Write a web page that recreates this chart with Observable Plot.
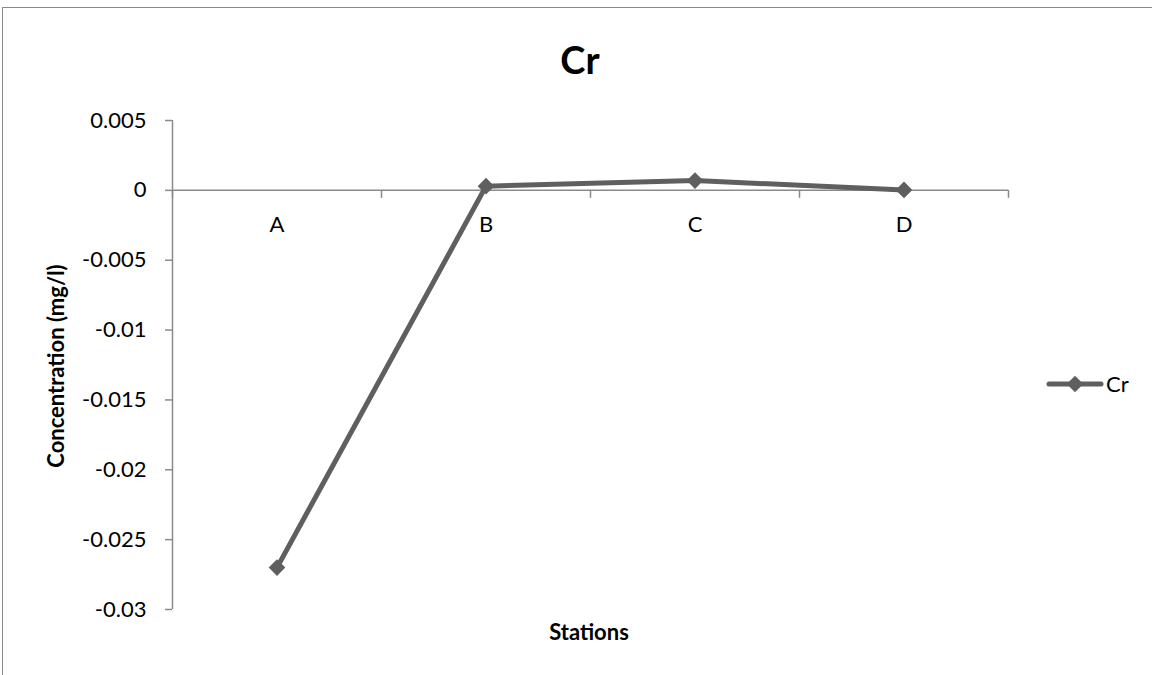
<!DOCTYPE html>
<html><head><meta charset="utf-8">
<script src="https://cdn.jsdelivr.net/npm/d3@7"></script>
<script src="https://cdn.jsdelivr.net/npm/@observablehq/plot@0.6"></script>
<style>
body{margin:0;background:#fff;font-family:Lato,"Open Sans",sans-serif;}
#wrap{position:relative;width:1152px;height:675px;overflow:hidden;background:#fff;}
#frame{position:absolute;left:2px;top:7px;width:1200px;height:720px;border:1.5px solid #8a8a8a;box-sizing:border-box;}
#chart{position:absolute;left:0;top:0;}
.t{position:absolute;color:#000;white-space:nowrap;font-family:Lato,sans-serif;}
#title{left:0;width:1160px;text-align:center;top:36px;font-size:38px;font-weight:700;line-height:46px;}
#xlabel{left:489px;width:200px;text-align:center;top:618px;font-size:22px;font-weight:700;line-height:28px;}
#ylabel{left:56px;top:366px;font-size:22px;font-weight:700;line-height:28px;transform:translate(-50%,-50%) rotate(-90deg);}
#legend{position:absolute;left:1040px;top:368px;}
</style>
</head><body>
<div id="wrap">
  <div id="frame"></div>
  <div id="chart"></div>
  <div class="t" id="title"></div>
  <div class="t" id="xlabel"></div>
  <div class="t" id="ylabel"></div>
  <div id="legend"></div>
</div>
<script>
// ---- data ----
const stations = ["A", "B", "C", "D"];
const crValues = [-0.027, 0.0003, 0.0007, 0.00003];
const yTicks = [0.005, 0, -0.005, -0.01, -0.015, -0.02, -0.025, -0.03];
const seriesName = "Cr";
const titleText = "Cr";
const xTitle = "Stations";
const yTitle = "Concentration (mg/l)";

const lineColor = "#5f5f5f";
const axisColor = "#8a8a8a";

const data = stations.map((s, i) => ({station: s, pos: i + 0.5, value: crValues[i]}));
const boundaries = d3.range(stations.length + 1);
const fmt = d => d === 0 ? "0" : String(+d.toFixed(3));

const chart = Plot.plot({
  width: 1152,
  height: 675,
  marginLeft: 172,
  marginRight: 144,
  marginTop: 120,
  marginBottom: 66,
  style: {fontFamily: "Lato, sans-serif", background: "transparent", overflow: "visible"},
  x: {domain: [0, stations.length], axis: null},
  y: {domain: [d3.min(yTicks), d3.max(yTicks)], axis: null},
  marks: [
    // y-axis line
    Plot.ruleX([0], {y1: d3.min(yTicks), y2: d3.max(yTicks), stroke: axisColor, strokeWidth: 1.5}),
    // y-axis ticks (outward)
    Plot.ruleY(yTicks, {x1: 0, x2: 0, insetLeft: -7, stroke: axisColor, strokeWidth: 1.5}),
    // y tick labels
    Plot.text(yTicks, {x: 0, y: d => d, text: fmt, textAnchor: "end", dx: -26, fontSize: 22, fill: "#000"}),
    // x-axis at zero
    Plot.ruleY([0], {x1: 0, x2: stations.length, stroke: axisColor, strokeWidth: 1.5}),
    // x-axis category boundary ticks
    Plot.ruleX(boundaries, {y1: 0, y2: 0, insetBottom: -8, stroke: axisColor, strokeWidth: 1.5}),
    // category labels
    Plot.text(data, {x: "pos", y: 0, text: "station", dy: 35, fontSize: 22, fill: "#000"}),
    // series
    Plot.line(data, {x: "pos", y: "value", stroke: lineColor, strokeWidth: 5, strokeLinejoin: "round"}),
    Plot.dot(data, {x: "pos", y: "value", symbol: "diamond2", r: 7.5, fill: lineColor, stroke: "none"})
  ]
});
document.getElementById("chart").appendChild(chart);

document.getElementById("title").textContent = titleText;
document.getElementById("xlabel").textContent = xTitle;
document.getElementById("ylabel").textContent = yTitle;

// legend
const lg = d3.select("#legend").append("svg").attr("width", 110).attr("height", 34);
lg.append("line").attr("x1", 9).attr("x2", 61).attr("y1", 16).attr("y2", 16)
  .attr("stroke", lineColor).attr("stroke-width", 5).attr("stroke-linecap", "round");
lg.append("path").attr("transform", "translate(35,16)")
  .attr("d", d3.symbol(d3.symbolDiamond2, Math.PI * 7.5 * 7.5)()).attr("fill", lineColor);
lg.append("text").attr("x", 66).attr("y", 16).attr("dy", "0.36em")
  .attr("font-size", 22).attr("font-family", "Lato, sans-serif").attr("fill", "#000").text(seriesName);
</script>
</body></html>
